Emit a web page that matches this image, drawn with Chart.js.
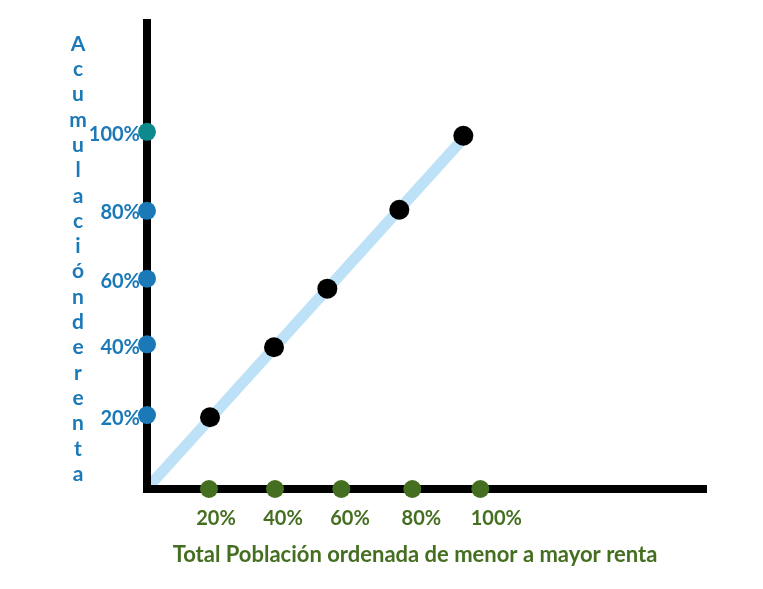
<!DOCTYPE html>
<html>
<head>
<meta charset="utf-8">
<script src="https://cdn.jsdelivr.net/npm/chart.js@4"></script>
<style>
 html, body { margin: 0; padding: 0; background: #fff; }
 #wrap { width: 763px; height: 589px; position: relative; }
</style>
</head>
<body>
<div id="wrap"><canvas id="lorenzChart"></canvas></div>
<script>
// values (percent units, hand-placed marks)
const populationDots = [18.6, 38.4, 58.3, 79.6, 100];
const incomeDots = [20.7, 40.5, 58.9, 77.9, 100];
const equalityX = [18.9, 38.1, 54.1, 75.7, 94.9];
const equalityY = [20.1, 39.7, 56.1, 78.2, 98.9];
const diagonalX = [0.9, 97];
const diagonalY = [1.1, 100.3];

const xTickValues = [20.7, 40.8, 60.9, 82.3, 104.8];
const xTickLabels = ['20%', '40%', '60%', '80%', '100%'];
const yTickValues = [19.8, 39.7, 58.1, 77.4, 99.2];
const yTickLabels = ['20%', '40%', '60%', '80%', '100%'];

const xTitle = 'Total Población ordenada de menor a mayor renta';
const yTitle = 'Acumulación de renta';

const xMax = 168;
const yMax = 131.6;

const green = '#446e20';
const blue = '#1b79b8';
const teal = '#0e8a8c';
const fontFam = 'Lato, "Open Sans", sans-serif';

function pairs(xs, ys) {
 return xs.map((x, i) => ({ x: x, y: ys[i] }));
}

const titlesPlugin = {
 id: 'titles',
 afterDraw(chart) {
  const ctx = chart.ctx;
  ctx.save();
  ctx.font = 'bold 22px ' + fontFam;
  ctx.fillStyle = green;
  ctx.textAlign = 'center';
  ctx.textBaseline = 'middle';
  ctx.fillText(xTitle, 415, 555);

  ctx.font = 'bold 21px ' + fontFam;
  ctx.fillStyle = blue;
  const letters = yTitle.replace(/ /g, '').split('');
  letters.forEach((ch, i) => {
   ctx.fillText(ch, 78, 44 + i * 25.3);
  });
  ctx.restore();
 }
};

const ctx = document.getElementById('lorenzChart').getContext('2d');

new Chart(ctx, {
 type: 'scatter',
 data: {
  datasets: [
   {
    label: 'Población',
    data: populationDots.map(x => ({ x: x, y: 0 })),
    pointRadius: 9,
    pointBackgroundColor: green,
    pointBorderWidth: 0,
    showLine: false,
    clip: false,
    order: 1
   },
   {
    label: 'Renta',
    data: incomeDots.map(y => ({ x: 0, y: y })),
    pointRadius: 9,
    pointBackgroundColor: incomeDots.map((v, i) => i === incomeDots.length - 1 ? teal : blue),
    pointBorderWidth: 0,
    showLine: false,
    clip: false,
    order: 1
   },
   {
    label: 'Igualdad',
    data: pairs(equalityX, equalityY),
    pointRadius: 10,
    pointBackgroundColor: '#000',
    pointBorderWidth: 0,
    showLine: false,
    clip: false,
    order: 2
   },
   {
    label: 'Eje Y',
    data: [{ x: 0, y: -1.1 }, { x: 0, y: yMax }],
    showLine: true,
    borderColor: '#000',
    borderWidth: 8,
    pointRadius: 0,
    clip: false,
    order: 3
   },
   {
    label: 'Eje X',
    data: [{ x: -1.2, y: 0 }, { x: xMax, y: 0 }],
    showLine: true,
    borderColor: '#000',
    borderWidth: 8,
    pointRadius: 0,
    clip: false,
    order: 3
   },
   {
    label: 'Diagonal',
    data: pairs(diagonalX, diagonalY),
    showLine: true,
    borderColor: '#bde1f6',
    borderWidth: 11,
    pointRadius: 0,
    clip: false,
    order: 4
   }
  ]
 },
 options: {
  responsive: true,
  maintainAspectRatio: false,
  animation: false,
  layout: { padding: { top: 18, right: 56, left: 0, bottom: 0 } },
  plugins: {
   legend: { display: false },
   tooltip: { enabled: false }
  },
  scales: {
   x: {
    type: 'linear',
    min: 0,
    max: xMax,
    grid: { display: false, drawTicks: false },
    border: { display: false },
    afterBuildTicks: (scale) => { scale.ticks = xTickValues.map(v => ({ value: v })); },
    afterFit: (scale) => { scale.height = 100; },
    ticks: {
     autoSkip: false,
     maxRotation: 0,
     padding: 18,
     color: green,
     font: { family: fontFam, size: 20, weight: 'bold' },
     callback: (v, i) => xTickLabels[i]
    }
   },
   y: {
    type: 'linear',
    min: 0,
    max: yMax,
    grid: { display: false, drawTicks: false },
    border: { display: false },
    afterBuildTicks: (scale) => { scale.ticks = yTickValues.map(v => ({ value: v })); },
    afterFit: (scale) => { scale.width = 147; },
    ticks: {
     autoSkip: false,
     padding: 7,
     color: blue,
     font: { family: fontFam, size: 20, weight: 'bold' },
     callback: (v, i) => yTickLabels[i]
    }
   }
  }
 },
 plugins: [titlesPlugin]
});
</script>
</body>
</html>
